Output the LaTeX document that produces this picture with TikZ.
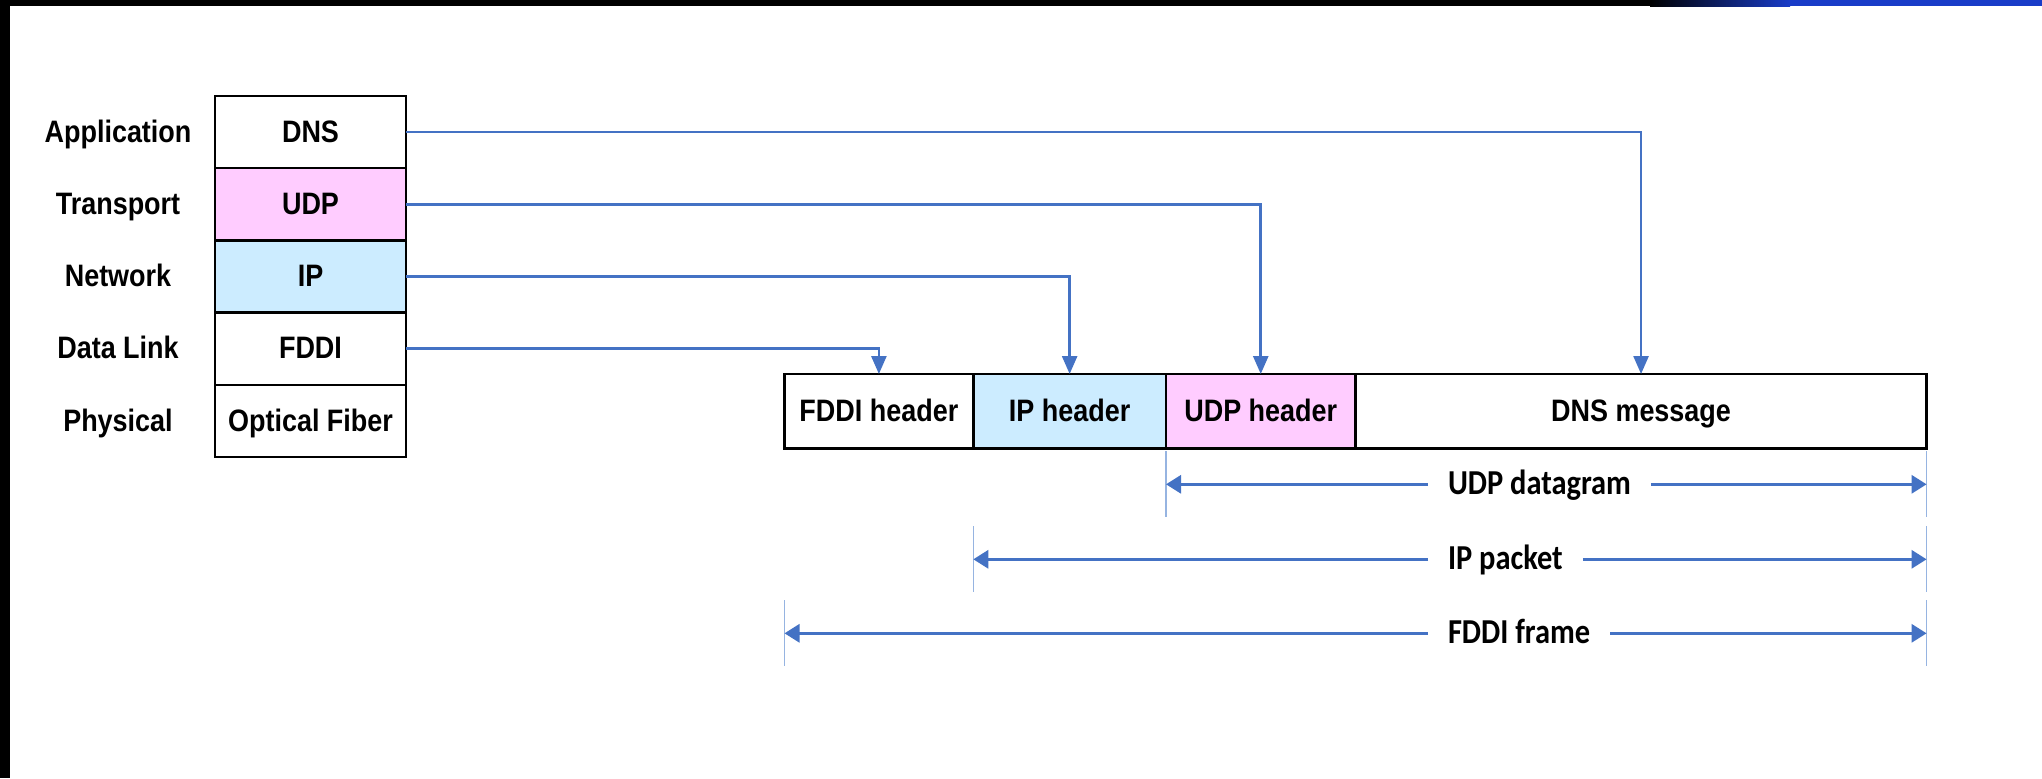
\documentclass[tikz,border=0pt]{standalone}
\usepackage{fontspec}
\setmainfont{Liberation Sans}
\newfontfamily\labfont[FakeStretch=0.87]{Liberation Sans}
\newfontfamily\dimfont[FakeStretch=0.87]{Carlito}
\usetikzlibrary{arrows.meta}
\definecolor{linkblue}{RGB}{68,114,196}
\definecolor{udppink}{RGB}{255,204,255}
\definecolor{iplight}{RGB}{204,236,255}
\definecolor{tickblue}{RGB}{150,180,225}
\definecolor{barblue}{RGB}{25,60,200}
\begin{document}
\begin{tikzpicture}[x=0.5pt,y=-0.5pt,
  every node/.style={inner sep=0pt, outer sep=0pt},
  lab/.style={font=\labfont\bfseries\fontsize{15.5pt}{18pt}\selectfont, text height=11.2pt, text depth=1pt},
  layerbox/.style={lab, draw=black, line width=1.2pt, minimum width=95.5pt, minimum height=36.1pt, anchor=north west},
  cell/.style={lab, draw=black, line width=1.2pt, minimum height=37.25pt, anchor=north west},
  conn/.style={draw=linkblue, line width=1.3pt, -{Triangle[length=9pt,width=7.5pt]}},
  dim/.style={draw=linkblue, line width=1.5pt, -{Triangle[length=7.5pt,width=9pt]}},
  tick/.style={draw=tickblue, line width=0.6pt},
  dimlab/.style={font=\dimfont\bfseries\fontsize{17.5pt}{20pt}\selectfont, anchor=west, text height=11.5pt, text depth=1pt}
]
% page and frame
\fill[white] (0,0) rectangle (2042,778);
\useasboundingbox (0,0) rectangle (2042,778);
\fill[black] (0,0) rectangle (10,778);
\fill[black] (0,0) rectangle (1650,6);
\shade[left color=black, right color=barblue] (1650,0) rectangle (1790,6);
\fill[barblue] (1790,0) rectangle (2042,6);

% protocol stack
\node[layerbox] (dns) at (215,96) {DNS};
\node[layerbox, fill=udppink] (udp) at (215,168.2) {UDP};
\node[layerbox, fill=iplight] (ip) at (215,240.4) {IP};
\node[layerbox] (fddi) at (215,312.6) {FDDI};
\node[layerbox] (phy) at (215,384.8) {Optical Fiber};

% layer names
\node[lab] (lapp) at (118,0 |- dns) {Application};
\node[lab] (ltra) at (118,0 |- udp) {Transport};
\node[lab] (lnet) at (118,0 |- ip) {Network};
\node[lab] (llnk) at (118,0 |- fddi) {Data Link};
\node[lab] (lphy) at (118,0 |- phy) {Physical};

% frame layout
\node[cell, minimum width=94.4pt] (fddih) at (784.5,374) {FDDI header};
\node[cell, fill=iplight, minimum width=96.35pt] (iph) at (973.3,374) {IP header};
\node[cell, fill=udppink, minimum width=94.75pt] (udph) at (1166,374) {UDP header};
\node[cell, minimum width=285.55pt] (dnsm) at (1355.5,374) {DNS message};

% encapsulation connectors
\draw[conn] (dns.east) -| (dnsm.north);
\draw[conn] (udp.east) -| (udph.north);
\draw[conn] (ip.east) -| (iph.north);
\draw[conn] (fddi.east) -| (fddih.north);

% extent markers
\coordinate (dgL) at (udph.south west |- 0,484.3);
\coordinate (dgR) at (dnsm.south east |- 0,484.3);
\coordinate (pkL) at (iph.south west |- 0,559.3);
\coordinate (pkR) at (dnsm.south east |- 0,559.3);
\coordinate (frL) at (fddih.south west |- 0,633.3);
\coordinate (frR) at (dnsm.south east |- 0,633.3);
\foreach \c in {dgL,dgR,pkL,pkR,frL,frR}
  \draw[tick] (\c) ++(0,-33) -- ++(0,66);

\node[dimlab] (dgtxt) at (1448,484.3) {UDP datagram};
\draw[dim] ([xshift=-10pt]dgtxt.west) -- (dgL);
\draw[dim] ([xshift=10pt]dgtxt.east) -- (dgR);

\node[dimlab] (pktxt) at (1448,559.3) {IP packet};
\draw[dim] ([xshift=-10pt]pktxt.west) -- (pkL);
\draw[dim] ([xshift=10pt]pktxt.east) -- (pkR);

\node[dimlab] (frtxt) at (1448,633.3) {FDDI frame};
\draw[dim] ([xshift=-10pt]frtxt.west) -- (frL);
\draw[dim] ([xshift=10pt]frtxt.east) -- (frR);
\end{tikzpicture}
\end{document}
